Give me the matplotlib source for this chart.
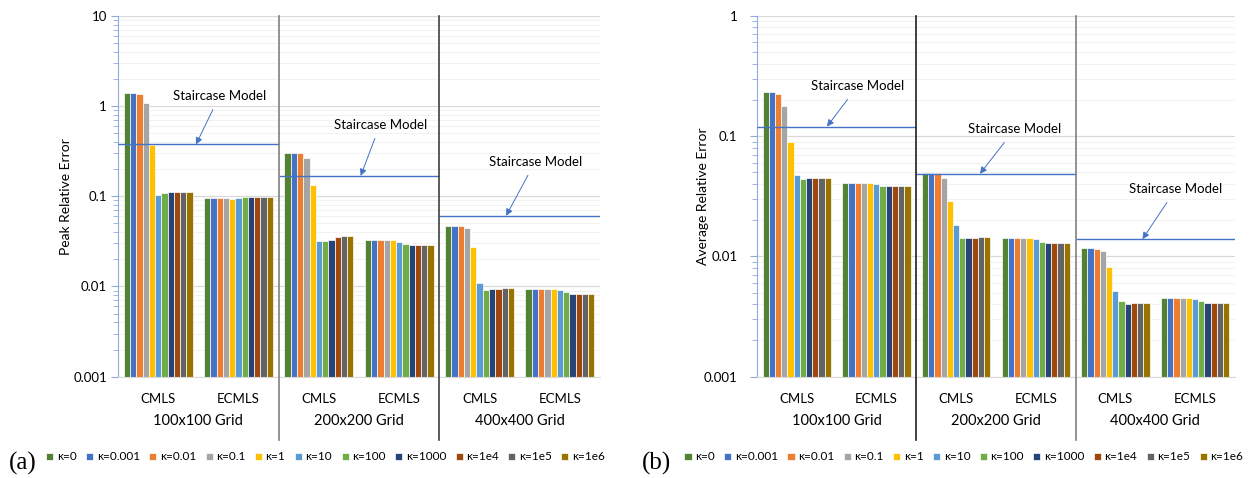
import matplotlib
matplotlib.use('Agg')
import matplotlib.pyplot as plt
import matplotlib.transforms as mtransforms
from matplotlib.ticker import LogLocator, NullFormatter
import numpy as np

plt.rcParams['font.family'] = ['Lato', 'DejaVu Sans']

kappas = ['κ=0', 'κ=0.001', 'κ=0.01', 'κ=0.1', 'κ=1', 'κ=10', 'κ=100',
          'κ=1000', 'κ=1e4', 'κ=1e5', 'κ=1e6']
colors = ['#548235', '#4472C4', '#ED7D31', '#A5A5A5', '#FFC000', '#5B9BD5',
          '#70AD47', '#264478', '#9E480E', '#636363', '#997300']
methods = ['CMLS', 'ECMLS'] * 3
grids = ['100x100 Grid', '200x200 Grid', '400x400 Grid']

# rows: CMLS100, ECMLS100, CMLS200, ECMLS200, CMLS400, ECMLS400 ; cols: kappas
peak_err = [
    [1.40, 1.40, 1.35, 1.08, 0.366, 0.103, 0.108, 0.110, 0.110, 0.110, 0.110],
    [0.095, 0.095, 0.095, 0.095, 0.093, 0.096, 0.097, 0.097, 0.097, 0.097, 0.097],
    [0.304, 0.304, 0.300, 0.267, 0.132, 0.0316, 0.032, 0.0327, 0.0352, 0.0361, 0.0361],
    [0.0327, 0.0327, 0.0327, 0.0327, 0.0325, 0.0308, 0.0297, 0.029, 0.0289, 0.0289, 0.0289],
    [0.047, 0.047, 0.0468, 0.0443, 0.0273, 0.0109, 0.00915, 0.0093, 0.0094, 0.0095, 0.0095],
    [0.0093, 0.0093, 0.0093, 0.0093, 0.0093, 0.0091, 0.0086, 0.0083, 0.0082, 0.0082, 0.0082],
]
peak_stair = [0.375, 0.168, 0.0607]

avg_err = [
    [0.233, 0.233, 0.225, 0.177, 0.089, 0.0473, 0.0436, 0.0444, 0.0444, 0.0444, 0.0444],
    [0.0411, 0.0411, 0.0411, 0.0411, 0.0411, 0.040, 0.0388, 0.0383, 0.0383, 0.0383, 0.0383],
    [0.0495, 0.0495, 0.049, 0.0444, 0.0286, 0.0181, 0.0143, 0.0141, 0.0143, 0.0146, 0.0146],
    [0.0143, 0.0143, 0.0143, 0.0143, 0.0142, 0.0139, 0.0132, 0.013, 0.013, 0.013, 0.013],
    [0.01165, 0.01165, 0.0116, 0.011, 0.00815, 0.00515, 0.00424, 0.00402, 0.00407, 0.00412, 0.0041],
    [0.00448, 0.00448, 0.00448, 0.00448, 0.00448, 0.00445, 0.00426, 0.0041, 0.0041, 0.00407, 0.00407],
]
avg_stair = [0.12, 0.0486, 0.0139]


def draw_panel(ax, values, stair, ylim, ylabel, tip_x, text_off, sep_colors, ypad, ylab_x):
    values = np.array(values)
    x = np.arange(len(methods))
    w = 0.078
    for i, (k, c) in enumerate(zip(kappas, colors)):
        ax.bar(x + (i - 5) * w, values[:, i], w, color=c, edgecolor='white',
               linewidth=0.5, label=k, zorder=2)

    ax.set_yscale('log')
    ax.set_ylim(*ylim)
    ax.set_xlim(-0.5, 5.5)
    ax.yaxis.set_major_locator(LogLocator(base=10))
    ax.yaxis.set_minor_locator(LogLocator(base=10, subs=np.arange(2, 10)))
    ax.yaxis.set_minor_formatter(NullFormatter())
    ax.set_yticklabels([('%g' % t) for t in ax.get_yticks()])
    ax.grid(True, which='major', axis='y', color='#d9d9d9', lw=0.9, zorder=0)
    ax.grid(True, which='minor', axis='y', color='#f2f2f2', lw=0.8, zorder=0)
    ax.set_axisbelow(True)

    for s in ['top', 'right']:
        ax.spines[s].set_visible(False)
    ax.spines['left'].set_color('#8faadc')
    ax.spines['bottom'].set_color('#d9d9d9')
    ax.tick_params(axis='y', which='both', colors='#8faadc', labelcolor='black',
                   labelsize=9.5, pad=ypad)
    ax.tick_params(axis='y', which='major', length=5)
    ax.tick_params(axis='y', which='minor', length=3.5)
    ax.set_xticks(x)
    ax.set_xticklabels(methods, fontsize=9.5)
    ax.tick_params(axis='x', length=0, pad=12)
    ax.set_ylabel(ylabel, fontsize=10)
    ax.yaxis.set_label_coords(ylab_x, 0.5)

    trans = mtransforms.blended_transform_factory(ax.transData, ax.transAxes)
    for g, name in enumerate(grids):
        ax.text(2 * g + 0.5, -0.123, name, transform=trans, ha='center',
                va='center', fontsize=10.5)
    for sx, sc in zip([1.5, 3.5], sep_colors):
        ax.plot([sx, sx], [1, -0.175], transform=trans, color=sc, lw=1.2,
                clip_on=False, zorder=5)

    for g, st in enumerate(stair):
        ax.hlines(st, 2 * g - 0.5, 2 * g + 1.5, color='#4472C4', lw=1.0, zorder=3)
        ax.annotate('Staircase Model', xy=(tip_x[g], st), xycoords='data',
                    xytext=text_off[g], textcoords='offset points',
                    ha='center', va='center', fontsize=9.5,
                    arrowprops=dict(arrowstyle='-|>', color='#4472C4', lw=0.7,
                                    mutation_scale=10, shrinkA=4, shrinkB=0))


fig = plt.figure(figsize=(12.49, 4.78), dpi=100)
ax_a = fig.add_axes([0.0945, 0.212, 0.386, 0.755])
ax_b = fig.add_axes([0.606, 0.212, 0.3827, 0.755])

draw_panel(ax_a, peak_err, peak_stair, (0.001, 10), 'Peak Relative Error',
           [0.47, 2.52, 4.33], [(17, 35), (14, 37), (21, 39)],
           ['#808080', '#404040'], 3, -0.095)
draw_panel(ax_b, avg_err, avg_stair, (0.001, 1), 'Average Relative Error',
           [0.38, 2.30, 4.34], [(22, 29), (25, 32), (24, 36)],
           ['#202020', '#808080'], 9, -0.10)

for lx, tag, lgx in [(0.007, '(a)', 0.037), (0.514, '(b)', 0.548)]:
    fig.text(lx, 0.03, tag, family='Liberation Serif', fontsize=18, va='center')
    h, l = ax_a.get_legend_handles_labels()
    fig.legend(h, l, loc='center left', bbox_to_anchor=(lgx, 0.044), ncol=11,
               frameon=False, fontsize=8.5, handlelength=0.6, handleheight=0.6,
               handletextpad=0.3, columnspacing=0.8, borderpad=0, borderaxespad=0)

fig.savefig('out.png', dpi=100)
